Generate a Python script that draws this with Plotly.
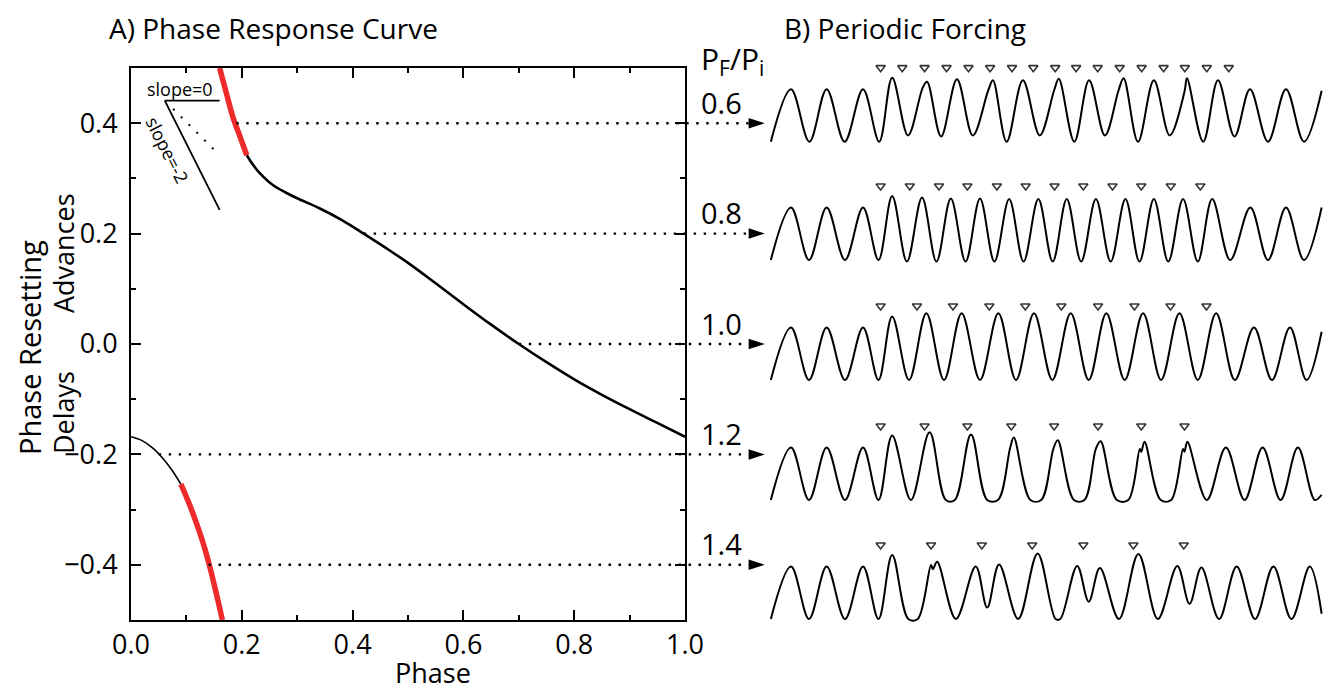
import plotly.graph_objects as go

# page body has an 8 px margin; the figure is sized to fill the rest of the window
OFF = 8
W, H = 1334 - OFF, 692 - OFF
FONT = "Open Sans"

# ---------------- Panel A: phase response curve ----------------
PRC_TOP_RED_PHASE = [0.160, 0.172, 0.184, 0.197, 0.209]
PRC_TOP_RED_VALUE = [0.500, 0.455, 0.411, 0.375, 0.342]
PRC_MAIN_PHASE = [0.209, 0.220, 0.232, 0.256, 0.280, 0.300, 0.340, 0.380, 0.420, 0.460, 0.500, 0.550,
                  0.600, 0.650, 0.700, 0.750, 0.800, 0.850, 0.900, 0.950, 1.000]
PRC_MAIN_VALUE = [0.342, 0.325, 0.310, 0.288, 0.274, 0.264, 0.246, 0.225, 0.200, 0.174, 0.147, 0.110,
                  0.072, 0.035, 0.000, -0.033, -0.064, -0.092, -0.118, -0.143, -0.168]
PRC_LOW_PHASE = [0.000, 0.020, 0.040, 0.060, 0.075, 0.090]
PRC_LOW_VALUE = [-0.168, -0.175, -0.189, -0.210, -0.230, -0.254]
PRC_LOW_RED_PHASE = [0.090, 0.100, 0.110, 0.120, 0.130, 0.140, 0.150, 0.160, 0.165]
PRC_LOW_RED_VALUE = [-0.254, -0.277, -0.302, -0.330, -0.360, -0.395, -0.435, -0.478, -0.500]

SLOPE0_X = [0.061, 0.160]
SLOPE0_Y = [0.441, 0.441]
SLOPEM2_X = [0.061, 0.160]
SLOPEM2_Y = [0.441, 0.243]
SLOPEM1_X = [0.076, 0.160]
SLOPEM1_Y = [0.426, 0.342]

PRC_LEVELS = [0.4, 0.2, 0.0, -0.2, -0.4]
DOT_START_PHASE = [0.19, 0.42, 0.70, 0.05, 0.14]
ROW_LABELS = ["0.6", "0.8", "1.0", "1.2", "1.4"]

# ---------------- Panel B: periodic forcing traces ----------------
# time in units of intrinsic period, value normalised (trough 0, normal peak 1)
R06_PEAK_T = [0, 0.99, 2.0, 2.81, 3.78, 4.61, 5.61, 6.44, 7.44, 8.28, 9.24, 10.08, 11.0, 11.86, 12.75, 13.75, 14.74]
R06_PEAK_V = [1.0, 1.0, 1.0, 1.22, 1.14, 1.19, 1.17, 1.17, 1.20, 1.17, 1.21, 1.17, 1.21, 1.17, 1.0, 1.0, 0.97]
R06_TROUGH_T = [-0.56, 0.51, 1.49, 2.45, 3.25, 4.17, 5.05, 5.99, 6.91, 7.87, 8.72, 9.64, 10.52, 11.45, 12.32, 13.25, 14.25]
R06_TROUGH_V = [0.0, 0.0, 0.0, 0.0, 0.12, 0.10, 0.12, 0.0, 0.12, 0.0, 0.12, 0.0, 0.12, 0.0, 0.10, 0.0, 0.0]
R06_NOTCH_T = [3.66, 5.48, 7.31, 9.10, 10.93]
R06_NOTCH_V = [1.03, 0.98, 0.98, 0.98, 0.95]
R06_STIM_T = [2.49, 3.09, 3.71, 4.32, 4.93, 5.53, 6.14, 6.73, 7.34, 7.92, 8.52, 9.13, 9.74, 10.35, 10.94, 11.55, 12.16]

R08_PEAK_T = [0, 0.99, 2.0, 2.81, 3.64, 4.44, 5.25, 6.06, 6.87, 7.66, 8.47, 9.29, 10.08, 10.89, 11.70, 12.76, 13.75, 14.74]
R08_PEAK_V = [1.0, 1.0, 1.0, 1.22, 1.19, 1.17, 1.17, 1.16, 1.16, 1.16, 1.16, 1.16, 1.16, 1.16, 1.16, 1.0, 1.0, 1.0]
R08_TROUGH_T = [-0.56, 0.5, 1.5, 2.43, 3.22, 4.04, 4.85, 5.65, 6.46, 7.27, 8.06, 8.88, 9.68, 10.48, 11.30, 12.2, 13.25, 14.25]
R08_TROUGH_V = [0.0, 0.0, 0.0, 0.0, -0.03, -0.03, -0.03, -0.03, -0.03, -0.03, -0.03, -0.03, -0.03, -0.03, -0.03, 0.0, 0.0, 0.0]
R08_NOTCH_T = []
R08_NOTCH_V = []
R08_STIM_T = [2.49, 3.30, 4.11, 4.90, 5.72, 6.52, 7.32, 8.12, 8.93, 9.73, 10.55, 11.37]

R10_PEAK_T = [0, 0.99, 2.0, 2.81, 3.76, 4.74, 5.76, 6.75, 7.77, 8.76, 9.78, 10.79, 11.81, 12.86, 13.86, 14.74]
R10_PEAK_V = [1.0, 1.0, 1.0, 1.21, 1.27, 1.27, 1.27, 1.27, 1.27, 1.27, 1.27, 1.27, 1.27, 1.0, 1.0, 0.92]
R10_TROUGH_T = [-0.56, 0.5, 1.5, 2.43, 3.28, 4.25, 5.25, 6.25, 7.26, 8.27, 9.27, 10.28, 11.30, 12.33, 13.36, 14.32]
R10_TROUGH_V = [0.0] * 16
R10_NOTCH_T = []
R10_NOTCH_V = []
R10_STIM_T = [2.49, 3.50, 4.50, 5.51, 6.51, 7.51, 8.53, 9.54, 10.54, 11.54]

R12_PEAK_T = [0, 0.99, 2.0, 2.81, 3.85, 5.00, 6.19, 7.41, 8.60, 9.82, 11.01, 12.08, 13.10, 14.08]
R12_PEAK_V = [1.0, 1.0, 1.0, 1.23, 1.29, 1.25, 1.19, 1.14, 1.12, 1.11, 1.11, 1.0, 1.0, 1.0]
R12_TROUGH_T = [-0.56, 0.5, 1.5, 2.43, 3.33, 4.30, 4.55, 5.45, 5.75, 6.65, 6.95, 7.86, 8.15, 9.05, 9.37,
                10.27, 10.56, 11.55, 12.6, 13.6, 14.55, 14.74]
R12_TROUGH_V = [0.0] * 21 + [0.1]
R12_NOTCH_T = [6.09, 7.29, 8.47, 9.69, 9.73, 10.89, 10.93]
R12_NOTCH_V = [1.0, 0.98, 0.98, 0.97, 0.92, 0.97, 0.92]
R12_STIM_T = [2.49, 3.71, 4.90, 6.12, 7.31, 8.53, 9.73, 10.93]

R14_PEAK_T = [0, 0.99, 2.0, 2.81, 4.06, 5.13, 5.78, 6.85, 7.95, 8.58, 9.65, 10.73, 11.40, 12.38, 13.40, 14.41]
R14_PEAK_V = [1.0, 1.0, 1.0, 1.22, 1.09, 1.0, 1.04, 1.25, 1.01, 0.97, 1.24, 1.01, 0.98, 1.0, 1.0, 1.0]
R14_TROUGH_T = [-0.56, 0.5, 1.5, 2.43, 3.26, 3.52, 4.58, 5.45, 6.31, 7.35, 7.48, 8.27, 9.11, 10.19, 11.07,
                11.89, 12.89, 13.9, 14.74]
R14_TROUGH_V = [0.0, 0.0, 0.0, 0.0, 0.0, 0.0, 0.0, 0.22, 0.0, 0.0, 0.0, 0.33, 0.0, 0.0, 0.29,
                0.0, 0.0, 0.0, 0.1]
R14_NOTCH_T = [3.89, 3.94]
R14_NOTCH_V = [1.03, 0.95]
R14_STIM_T = [2.49, 3.89, 5.30, 6.70, 8.12, 9.51, 10.91]

ROWS = [
    (R06_PEAK_T, R06_PEAK_V, R06_TROUGH_T, R06_TROUGH_V, R06_NOTCH_T, R06_NOTCH_V, R06_STIM_T),
    (R08_PEAK_T, R08_PEAK_V, R08_TROUGH_T, R08_TROUGH_V, R08_NOTCH_T, R08_NOTCH_V, R08_STIM_T),
    (R10_PEAK_T, R10_PEAK_V, R10_TROUGH_T, R10_TROUGH_V, R10_NOTCH_T, R10_NOTCH_V, R10_STIM_T),
    (R12_PEAK_T, R12_PEAK_V, R12_TROUGH_T, R12_TROUGH_V, R12_NOTCH_T, R12_NOTCH_V, R12_STIM_T),
    (R14_PEAK_T, R14_PEAK_V, R14_TROUGH_T, R14_TROUGH_V, R14_NOTCH_T, R14_NOTCH_V, R14_STIM_T),
]

# ---------------- layout geometry (window pixels) ----------------
AX_L, AX_R, AX_T, AX_B = 131, 685, 68, 620
TR_L, TR_R = 770, 1326
T0_PX, PERIOD_PX = 791, 36.0
AMP_PX = 52.5
ROW_TROUGH_PX = [141.7, 260, 380, 500, 619]
STIM_OFFSET = 1.41
DOT_END = 1.115       # overlay phase units
ARROW_TIP = 1.144

def px_x(p):
    return (p - OFF) / W

def px_y(p):
    return 1 - (p - OFF) / H

span = AX_R - AX_L
x3_range = [-(AX_L - OFF) / span, (W + OFF - AX_L) / span]
y2_top = H / AMP_PX
baselines = [(H + OFF - p) / AMP_PX for p in ROW_TROUGH_PX]

fig = go.Figure()

# --- PRC traces ---
fig.add_trace(go.Scatter(x=PRC_MAIN_PHASE, y=PRC_MAIN_VALUE, mode="lines",
                         line=dict(color="black", width=2.6, shape="spline"), xaxis="x", yaxis="y"))
fig.add_trace(go.Scatter(x=PRC_LOW_PHASE, y=PRC_LOW_VALUE, mode="lines",
                         line=dict(color="black", width=1.6, shape="spline"), xaxis="x", yaxis="y"))
fig.add_trace(go.Scatter(x=PRC_TOP_RED_PHASE, y=PRC_TOP_RED_VALUE, mode="lines",
                         line=dict(color="#ee2a2a", width=5.5, shape="spline"), xaxis="x", yaxis="y"))
fig.add_trace(go.Scatter(x=PRC_LOW_RED_PHASE, y=PRC_LOW_RED_VALUE, mode="lines",
                         line=dict(color="#ee2a2a", width=5.5, shape="spline"), xaxis="x", yaxis="y"))
# slope guides
fig.add_trace(go.Scatter(x=SLOPE0_X, y=SLOPE0_Y, mode="lines", line=dict(color="black", width=1.8),
                         xaxis="x", yaxis="y"))
fig.add_trace(go.Scatter(x=SLOPEM2_X, y=SLOPEM2_Y, mode="lines", line=dict(color="black", width=1.8),
                         xaxis="x", yaxis="y"))
fig.add_trace(go.Scatter(x=SLOPEM1_X, y=SLOPEM1_Y, mode="lines",
                         line=dict(color="black", width=2, dash="2px,9px"), xaxis="x", yaxis="y"))

# --- dotted level lines with arrows (overlay axis spanning whole figure) ---
for lvl, x0 in zip(PRC_LEVELS, DOT_START_PHASE):
    fig.add_trace(go.Scatter(x=[x0, DOT_END], y=[lvl, lvl], mode="lines",
                             line=dict(color="black", width=2.4, dash="2.4px,7.6px"),
                             xaxis="x3", yaxis="y3"))
fig.add_trace(go.Scatter(x=[ARROW_TIP] * len(PRC_LEVELS), y=PRC_LEVELS, mode="markers",
                         marker=dict(symbol="arrow", angle=90, size=17, color="black",
                                     line=dict(width=0)),
                         xaxis="x3", yaxis="y3"))

# --- forcing traces ---
for (pt, pv, tt, tv, nt, nv, st), base in zip(ROWS, baselines):
    knots = sorted(list(zip(pt, pv)) + list(zip(tt, tv)) + list(zip(nt, nv)))
    fig.add_trace(go.Scatter(x=[k[0] for k in knots], y=[base + k[1] for k in knots], mode="lines",
                             line=dict(color="black", width=2.0, shape="spline", smoothing=1.0),
                             xaxis="x2", yaxis="y2"))
    fig.add_trace(go.Scatter(x=st, y=[base + STIM_OFFSET] * len(st), mode="markers",
                             marker=dict(symbol="triangle-down-open", size=8, color="#333333",
                                         line=dict(width=1.6, color="#333333")),
                             xaxis="x2", yaxis="y2"))

axis_common = dict(showgrid=False, zeroline=False, showline=True, linecolor="black", linewidth=2,
                   mirror="allticks", ticks="inside", ticklen=10, tickwidth=1.6, tickcolor="black",
                   automargin=False, tickfont=dict(family=FONT, size=27, color="black"))

annotations = []
def text(x, y, s, size=28, angle=0, xanchor="center", yanchor="middle", xref="paper", yref="paper", yshift=0):
    annotations.append(dict(x=x, y=y, xref=xref, yref=yref, text=s, showarrow=False,
                            font=dict(family=FONT, size=size, color="black"), textangle=angle,
                            xanchor=xanchor, yanchor=yanchor, yshift=yshift, borderpad=0))

text(px_x(273), 1.0, "A) Phase Response Curve", yanchor="top")
text(px_x(905), 1.0, "B) Periodic Forcing", yanchor="top")
text(px_x(733), px_y(60), "P<sub>F</sub>/P<sub>i</sub>", size=30)
text(px_x(433), 0.0, "Phase", size=27, yanchor="bottom")
text(px_x(30), px_y(348), "Phase Resetting", size=29, angle=-90)
text(px_x(64), px_y(253), "Advances", size=27, angle=-90)
text(px_x(64), px_y(413), "Delays", size=27, angle=-90)
for lvl, lab in zip(PRC_LEVELS, ROW_LABELS):
    text(px_x(721), lvl, lab, size=29, xref="paper", yref="y3", yshift=21)
text(0.088, 0.462, "slope=0", size=18, xref="x", yref="y")
text(0.066, 0.352, "slope=-2", size=18, angle=63, xref="x", yref="y")

fig.update_layout(
    width=W, height=H, autosize=False,
    margin=dict(l=0, r=0, t=0, b=0, pad=0),
    paper_bgcolor="white", plot_bgcolor="rgba(0,0,0,0)",
    showlegend=False,
    font=dict(family=FONT, color="black"),
    xaxis=dict(domain=[px_x(AX_L), px_x(AX_R)], range=[0, 1], dtick=0.2, tick0=0, tickformat=".1f",
               minor=dict(ticks="inside", ticklen=5, tickwidth=1.6, tickcolor="black", dtick=0.1),
               ticklabelstandoff=0, anchor="y", **axis_common),
    yaxis=dict(domain=[px_y(AX_B), px_y(AX_T)], range=[-0.5, 0.5], dtick=0.2, tick0=0, tickformat=".1f",
               minor=dict(ticks="inside", ticklen=5, tickwidth=1.6, tickcolor="black", dtick=0.1),
               ticklabelstandoff=6, anchor="x", **axis_common),
    xaxis2=dict(domain=[px_x(TR_L), px_x(TR_R)],
                range=[(TR_L - T0_PX) / PERIOD_PX, (TR_R - T0_PX) / PERIOD_PX],
                visible=False, anchor="y2", automargin=False),
    yaxis2=dict(domain=[0, 1], range=[0, y2_top], visible=False, anchor="x2", automargin=False),
    xaxis3=dict(domain=[0, 1], range=x3_range, visible=False, anchor="y3", automargin=False),
    yaxis3=dict(domain=[px_y(AX_B), px_y(AX_T)], range=[-0.5, 0.5], visible=False, anchor="x3",
                automargin=False),
    annotations=annotations,
)

fig.write_html("out.html")
